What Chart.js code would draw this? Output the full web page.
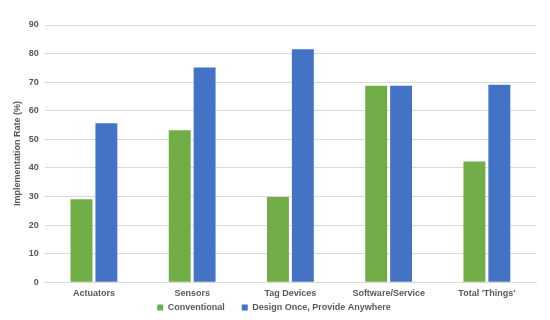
<!DOCTYPE html>
<html>
<head>
<meta charset="utf-8">
<script src="https://cdn.jsdelivr.net/npm/chart.js@4.4.1/dist/chart.umd.min.js"></script>
<style>
  html, body { margin: 0; padding: 0; background: #fff; }
  #wrap { width: 550px; height: 320px; }
</style>
</head>
<body>
<div id="wrap"><canvas id="myBarChart" width="550" height="320"></canvas></div>
<script>
const categories = ['Actuators', 'Sensors', 'Tag Devices', 'Software/Service', "Total 'Things'"];
const conventional = [29.0, 53.2, 29.8, 68.7, 42.2];
const designOnce = [55.6, 75.1, 81.5, 68.7, 69.1];
const yTicks = [0, 10, 20, 30, 40, 50, 60, 70, 80, 90];

const textColor = '#595959';
const font = { family: '"Liberation Sans", Arial, sans-serif', size: 9, weight: 'bold' };

const ctx = document.getElementById('myBarChart').getContext('2d');
new Chart(ctx, {
  type: 'bar',
  data: {
    labels: categories,
    datasets: [{
      label: 'Conventional',
      data: conventional,
      backgroundColor: '#70AD47'
    }, {
      label: 'Design Once, Provide Anywhere',
      data: designOnce,
      backgroundColor: '#4472C4'
    }]
  },
  options: {
    responsive: false,
    animation: false,
    layout: { padding: { left: 12, right: 14, top: 25, bottom: -2 } },
    datasets: {
      bar: { categoryPercentage: 0.507, barPercentage: 0.88 }
    },
    scales: {
      x: {
        grid: { display: false, drawTicks: false },
        border: { color: '#d9d9d9' },
        ticks: { color: textColor, font: font, padding: 6 },
        afterFit: (scale) => { scale.height -= 4; }
      },
      y: {
        min: 0,
        max: 90,
        afterBuildTicks: (axis) => { axis.ticks = yTicks.map(v => ({ value: v })); },
        grid: { color: '#d9d9d9', drawTicks: false },
        border: { display: false },
        ticks: { color: textColor, font: font, padding: 6 },
        title: {
          display: true,
          text: 'Implementation Rate (%)',
          color: textColor,
          font: font,
          padding: { top: 0, bottom: 0 }
        }
      }
    },
    plugins: {
      legend: {
        position: 'bottom',
        labels: {
          color: textColor,
          font: font,
          boxWidth: 6,
          boxHeight: 6,
          padding: 2,
          // extra gap after the first entry, like the original legend
          generateLabels: (chart) => {
            const items = Chart.defaults.plugins.legend.labels.generateLabels(chart);
            items[0].text = items[0].text + '      ';
            return items;
          }
        }
      },
      tooltip: { enabled: false }
    }
  }
});
</script>
</body>
</html>
